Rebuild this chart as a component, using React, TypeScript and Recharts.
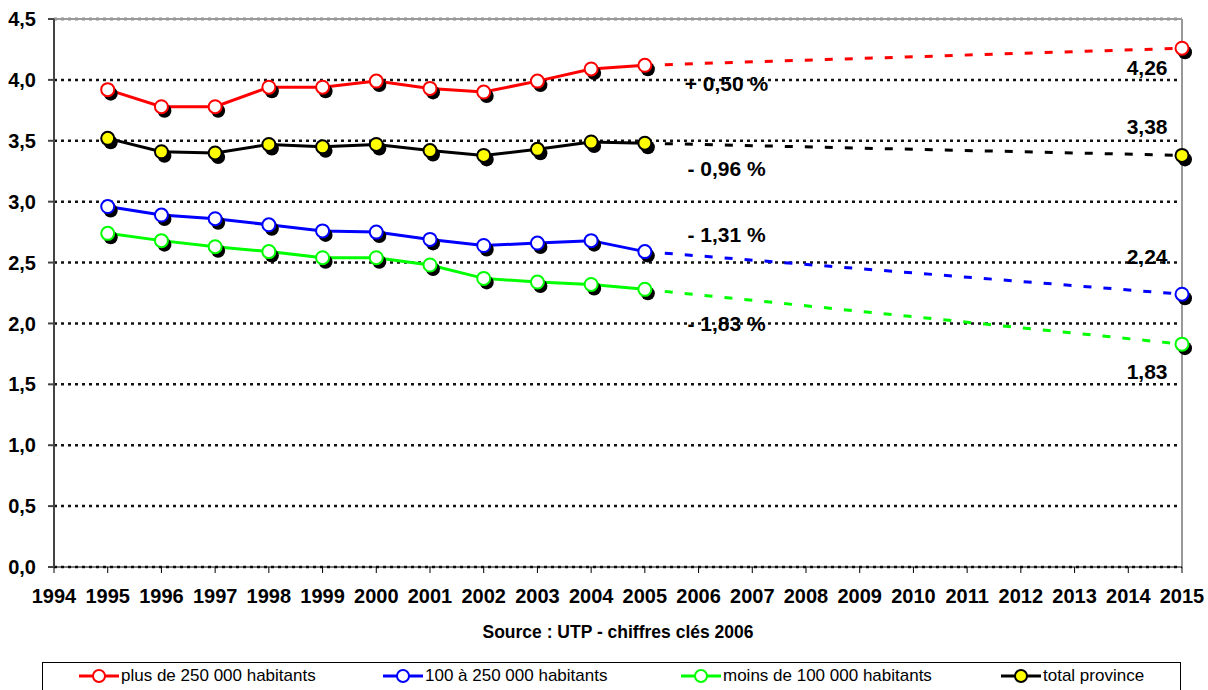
import React from 'react';
import {
  LineChart,
  Line,
  XAxis,
  YAxis,
  CartesianGrid,
  ReferenceDot,
  ReferenceLine,
  Legend,
} from 'recharts';

// ---------- data ----------
const axisYears = [1994, 1995, 1996, 1997, 1998, 1999, 2000, 2001, 2002, 2003, 2004, 2005, 2006, 2007, 2008, 2009, 2010, 2011, 2012, 2013, 2014, 2015];
const observedYears = [1995, 1996, 1997, 1998, 1999, 2000, 2001, 2002, 2003, 2004, 2005];
const lastObservedYear = 2005;
const projectionYear = 2015;

const plus250 = [3.92, 3.78, 3.78, 3.94, 3.94, 3.99, 3.93, 3.90, 3.99, 4.09, 4.12];
const from100to250 = [2.96, 2.89, 2.86, 2.81, 2.76, 2.75, 2.69, 2.64, 2.66, 2.68, 2.59];
const under100 = [2.74, 2.68, 2.63, 2.59, 2.54, 2.54, 2.48, 2.37, 2.34, 2.32, 2.28];
const totalProvince = [3.52, 3.41, 3.40, 3.47, 3.45, 3.47, 3.42, 3.38, 3.43, 3.49, 3.48];

const projected2015 = { plus250: 4.26, from100to250: 2.24, under100: 1.83, total: 3.38 };

const yTicks = [0, 0.5, 1, 1.5, 2, 2.5, 3, 3.5, 4, 4.5];

const growthTexts = ['+ 0,50 %', '- 0,96 %', '- 1,31 %', '- 1,83 %'];
const growthAnchorYear = 2006.52;
const growthAnchorValues = [3.974, 3.276, 2.734, 1.998];

const endTexts = ['4,26', '3,38', '2,24', '1,83'];
const endAnchorYear = 2014.35;
const endAnchorValues = [4.1, 3.616, 2.548, 1.605];

const sourceText = 'Source : UTP - chiffres clés 2006';

type SeriesDef = { key: string; name: string; color: string; fill: string; values: number[]; proj: number };
const series: SeriesDef[] = [
  { key: 'plus250', name: 'plus de 250 000 habitants', color: '#FF0000', fill: '#FFFFFF', values: plus250, proj: projected2015.plus250 },
  { key: 'from100to250', name: '100 à 250 000 habitants', color: '#0000FF', fill: '#FFFFFF', values: from100to250, proj: projected2015.from100to250 },
  { key: 'under100', name: 'moins de 100 000 habitants', color: '#00FF00', fill: '#FFFFFF', values: under100, proj: projected2015.under100 },
  { key: 'total', name: 'total province', color: '#000000', fill: '#FFFF00', values: totalProvince, proj: projected2015.total },
];

const data = axisYears.map((year) => {
  const row: Record<string, number | null> = { year };
  series.forEach((s) => {
    const i = observedYears.indexOf(year);
    row[s.key] = i >= 0 ? s.values[i] : null;
    row[s.key + '_proj'] =
      year === lastObservedYear ? s.values[observedYears.indexOf(lastObservedYear)] : year === projectionYear ? s.proj : null;
  });
  return row;
});

const FONT = 'Arial, "Liberation Sans", sans-serif';

const makeDot = (color: string, fill: string, onlyYear?: number) => (props: any) => {
  const { cx, cy, payload, index } = props;
  if (cx == null || cy == null || (onlyYear != null && payload?.year !== onlyYear)) {
    return <g key={`d-${index}`} />;
  }
  return (
    <g key={`d-${index}`}>
      <circle cx={cx + 3} cy={cy + 4} r={7} fill="#000" />
      <circle cx={cx} cy={cy} r={6.5} fill={fill} stroke={color} strokeWidth={2} />
    </g>
  );
};

const LegendBox = () => {
  const lefts = [36, 340, 638, 958];
  return (
    <div
      style={{
        position: 'relative',
        width: 1139,
        height: 28,
        borderTop: '1px solid #000',
        borderLeft: '1px solid #000',
        borderRight: '1px solid #000',
        boxSizing: 'border-box',
        background: '#fff',
        fontFamily: FONT,
        fontSize: 17,
        color: '#000',
      }}
    >
      {series.map((s, i) => (
        <div key={s.key} style={{ position: 'absolute', left: lefts[i], top: 4, display: 'flex', alignItems: 'center', whiteSpace: 'nowrap' }}>
          <svg width={42} height={16} style={{ display: 'block' }}>
            <line x1={0} y1={8} x2={40} y2={8} stroke={s.color} strokeWidth={3} />
            <circle cx={20} cy={8} r={6} fill={s.fill} stroke={s.color} strokeWidth={2} />
          </svg>
          <span style={{ lineHeight: '18px' }}>{s.name}</span>
        </div>
      ))}
    </div>
  );
};

export default function App() {
  return (
    <div style={{ position: 'absolute', left: 0, top: 0, width: 1208, height: 690, background: '#fff', overflow: 'hidden' }}>
      <LineChart width={1208} height={690} data={data} margin={{ top: 19, right: 26, bottom: 0, left: 0 }}>
        <CartesianGrid vertical={false} stroke="#111" strokeDasharray="3 4" strokeWidth={2.5} />
        <ReferenceLine y={4.5} stroke="#999" strokeWidth={2} />
        <ReferenceLine x={2015} stroke="#999" strokeWidth={2} />
        <XAxis
          dataKey="year"
          type="number"
          domain={[1994, 2015]}
          ticks={axisYears}
          interval={0}
          height={123}
          tickSize={6}
          tickMargin={16}
          stroke="#000"
          tick={{ fill: '#000', fontSize: 20, fontWeight: 'bold', fontFamily: FONT }}
          label={{ value: sourceText, position: 'insideBottom', offset: 52, fill: '#000', fontSize: 17.5, fontWeight: 'bold', fontFamily: FONT }}
        />
        <YAxis
          type="number"
          domain={[0, 4.5]}
          ticks={yTicks}
          interval={0}
          width={54}
          tickSize={6}
          tickMargin={12}
          stroke="#444"
          strokeWidth={2}
          tickFormatter={(v: number) => v.toFixed(1).replace('.', ',')}
          tick={{ fill: '#000', fontSize: 20, fontWeight: 'bold', fontFamily: FONT }}
        />
        {series.map((s) => (
          <Line
            key={s.key + '_proj'}
            dataKey={s.key + '_proj'}
            stroke={s.color}
            strokeWidth={3}
            strokeDasharray="8 12"
            connectNulls
            legendType="none"
            dot={makeDot(s.color, s.fill, projectionYear)}
            activeDot={false}
            isAnimationActive={false}
          />
        ))}
        {series.map((s) => (
          <Line
            key={s.key}
            dataKey={s.key}
            name={s.name}
            stroke={s.color}
            strokeWidth={3}
            dot={makeDot(s.color, s.fill)}
            activeDot={false}
            isAnimationActive={false}
          />
        ))}
        {growthTexts.map((t, i) => (
          <ReferenceDot
            key={'g' + i}
            x={growthAnchorYear}
            y={growthAnchorValues[i]}
            r={0}
            fill="none"
            stroke="none"
            label={{ value: t, position: 'center', fill: '#000', fontSize: 21, fontWeight: 'bold', fontFamily: FONT }}
          />
        ))}
        {endTexts.map((t, i) => (
          <ReferenceDot
            key={'e' + i}
            x={endAnchorYear}
            y={endAnchorValues[i]}
            r={0}
            fill="none"
            stroke="none"
            label={{ value: t, position: 'center', fill: '#000', fontSize: 21, fontWeight: 'bold', fontFamily: FONT }}
          />
        ))}
        <Legend
          layout="horizontal"
          verticalAlign="middle"
          align="center"
          content={() => <LegendBox />}
          wrapperStyle={{ position: 'absolute', top: 662, left: 42, width: 1139, height: 28 }}
        />
      </LineChart>
    </div>
  );
}
